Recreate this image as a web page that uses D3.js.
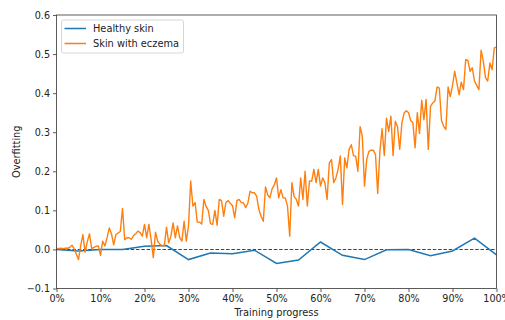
<!DOCTYPE html>
<html>
<head>
<meta charset="utf-8">
<script src="https://cdnjs.cloudflare.com/ajax/libs/d3/7.8.5/d3.min.js"></script>
<style>
  body { margin: 0; background: #fff; }
  text { font-family: "DejaVu Sans", sans-serif; fill: #222; }
</style>
</head>
<body>
<div id="vis"></div>
<script>
// Porcentaje de entrenamiento de cada serie
const HEALTHY_X = d3.range(0, 101, 5);
const HEALTHY_Y = [0.000, -0.004, 0.000, 0.000, 0.008, 0.010, -0.026, -0.009, -0.011, -0.002,
    -0.036, -0.027, 0.019, -0.015, -0.026, -0.001, 0.000, -0.016, -0.004, 0.029, -0.014];

const ECZEMA_X = d3.range(0, 100.5, 0.5);
const ECZEMA_Y = [
    0.003, 0.002, 0.003, 0.002, 0.003, 0.003, 0.005, 0.011, 0.002, -0.012,
    -0.026, 0.010, 0.038, -0.007, 0.020, 0.040, 0.002, 0.005, 0.008, 0.009,
    -0.015, 0.021, 0.009, 0.030, 0.055, 0.040, 0.012, 0.038, 0.042, 0.046,
    0.105, 0.025, 0.030, 0.030, 0.026, 0.035, 0.040, 0.047, 0.043, 0.034,
    0.064, 0.030, 0.064, 0.025, -0.021, 0.044, 0.021, 0.013, 0.009, 0.009,
    0.057, 0.017, 0.034, 0.068, 0.030, 0.060, 0.030, 0.021, 0.072, 0.021,
    0.060, 0.175, 0.111, 0.120, 0.070, 0.070, 0.065, 0.128, 0.110, 0.100,
    0.066, 0.064, 0.100, 0.062, 0.128, 0.125, 0.085, 0.120, 0.125, 0.118,
    0.112, 0.081, 0.125, 0.128, 0.120, 0.119, 0.107, 0.119, 0.149, 0.145,
    0.145, 0.136, 0.102, 0.085, 0.072, 0.160, 0.140, 0.132, 0.155, 0.165,
    0.183, 0.132, 0.153, 0.132, 0.132, 0.111, 0.034, 0.171, 0.135, 0.128,
    0.111, 0.183, 0.128, 0.200, 0.111, 0.175, 0.175, 0.205, 0.171, 0.205,
    0.162, 0.183, 0.171, 0.128, 0.221, 0.230, 0.171, 0.183, 0.205, 0.239,
    0.115, 0.234, 0.209, 0.256, 0.268, 0.240, 0.238, 0.200, 0.314, 0.290,
    0.162, 0.230, 0.251, 0.254, 0.254, 0.243, 0.143, 0.251, 0.309, 0.240,
    0.336, 0.302, 0.341, 0.240, 0.328, 0.314, 0.256, 0.324, 0.349, 0.355,
    0.350, 0.330, 0.324, 0.260, 0.350, 0.297, 0.382, 0.332, 0.384, 0.256,
    0.366, 0.375, 0.380, 0.416, 0.413, 0.330, 0.315, 0.307, 0.416, 0.391,
    0.420, 0.456, 0.426, 0.396, 0.428, 0.409, 0.486, 0.484, 0.456, 0.465,
    0.431, 0.420, 0.409, 0.510, 0.482, 0.440, 0.431, 0.477, 0.460, 0.516,
    0.518];

const X_TICKS = d3.range(0, 101, 10);
const Y_TICKS = [-0.1, 0.0, 0.1, 0.2, 0.3, 0.4, 0.5, 0.6];
const SERIES_NAMES = ["Healthy skin", "Skin with eczema"];
const COLORS = ["#1f77b4", "#ff7f0e"];

const WIDTH = 505;
const HEIGHT = 320;
const MARGIN = { top: 15, right: 8.5, bottom: 31.5, left: 56.5 };
const FONT_TICK = 9.6;
const FONT_LABEL = 9.8;

const SVG = d3.select("#vis").append("svg")
    .attr("width", WIDTH).attr("height", HEIGHT);

const escalaX = d3.scaleLinear()
    .domain([0, 100])
    .range([MARGIN.left, WIDTH - MARGIN.right]);

const escalaY = d3.scaleLinear()
    .domain([-0.1, 0.6])
    .range([HEIGHT - MARGIN.bottom, MARGIN.top]);

// Ejes
const ejeX = d3.axisBottom(escalaX)
    .tickValues(X_TICKS)
    .tickFormat(d => d + "%")
    .tickSizeOuter(0).tickSize(3.5).tickPadding(3);
const ejeY = d3.axisLeft(escalaY)
    .tickValues(Y_TICKS)
    .tickFormat(d3.format(".1f"))
    .tickSizeOuter(0).tickSize(3.5).tickPadding(3);

const gX = SVG.append("g")
    .attr("transform", `translate(0,${HEIGHT - MARGIN.bottom})`)
    .call(ejeX);
const gY = SVG.append("g")
    .attr("transform", `translate(${MARGIN.left},0)`)
    .call(ejeY);

[gX, gY].forEach(g => {
    g.select(".domain").remove();
    g.selectAll(".tick line").attr("stroke", "#333").attr("stroke-width", 0.8);
    g.selectAll(".tick text")
        .attr("font-size", FONT_TICK)
        .attr("font-family", "DejaVu Sans")
        .attr("fill", "#222");
});

// Linea punteada en cero
SVG.append("line")
    .attr("x1", escalaX(0)).attr("x2", escalaX(100))
    .attr("y1", escalaY(0)).attr("y2", escalaY(0))
    .attr("stroke", "#444")
    .attr("stroke-width", 1.1)
    .attr("stroke-dasharray", "3.5,1.8");

const linea = d3.line()
    .x(d => escalaX(d[0]))
    .y(d => escalaY(d[1]));

SVG.append("path")
    .datum(d3.zip(HEALTHY_X, HEALTHY_Y))
    .attr("fill", "none")
    .attr("stroke", COLORS[0])
    .attr("stroke-width", 1.5)
    .attr("d", linea);

SVG.append("path")
    .datum(d3.zip(ECZEMA_X, ECZEMA_Y))
    .attr("fill", "none")
    .attr("stroke", COLORS[1])
    .attr("stroke-width", 1.4)
    .attr("stroke-linejoin", "round")
    .attr("d", linea);

// Marco
SVG.append("rect")
    .attr("x", MARGIN.left).attr("y", MARGIN.top)
    .attr("width", WIDTH - MARGIN.right - MARGIN.left)
    .attr("height", HEIGHT - MARGIN.bottom - MARGIN.top)
    .attr("fill", "none")
    .attr("stroke", "#333")
    .attr("stroke-width", 0.8);

// Titulos de ejes
SVG.append("text")
    .attr("x", (MARGIN.left + WIDTH - MARGIN.right) / 2)
    .attr("y", 316)
    .attr("text-anchor", "middle")
    .attr("font-size", FONT_LABEL)
    .text("Training progress");

SVG.append("text")
    .attr("transform", `translate(19.5,${(MARGIN.top + HEIGHT - MARGIN.bottom) / 2}) rotate(-90)`)
    .attr("text-anchor", "middle")
    .attr("font-size", FONT_LABEL)
    .text("Overfitting");

// Leyenda
const leyenda = SVG.append("g").attr("transform", "translate(61.5,20)");
leyenda.append("rect")
    .attr("width", 122).attr("height", 33)
    .attr("rx", 2)
    .attr("fill", "#fff").attr("fill-opacity", 0.8)
    .attr("stroke", "#ccc").attr("stroke-width", 0.8);

const items = leyenda.selectAll("g.item")
    .data(SERIES_NAMES)
    .join("g")
    .attr("class", "item")
    .attr("transform", (d, i) => `translate(0,${8.5 + i * 15})`);
items.append("line")
    .attr("x1", 3).attr("x2", 24.5)
    .attr("stroke", (d, i) => COLORS[i])
    .attr("stroke-width", 1.5);
items.append("text")
    .attr("x", 31.5).attr("y", 3.5)
    .attr("font-size", FONT_LABEL)
    .text(d => d);
</script>
</body>
</html>
